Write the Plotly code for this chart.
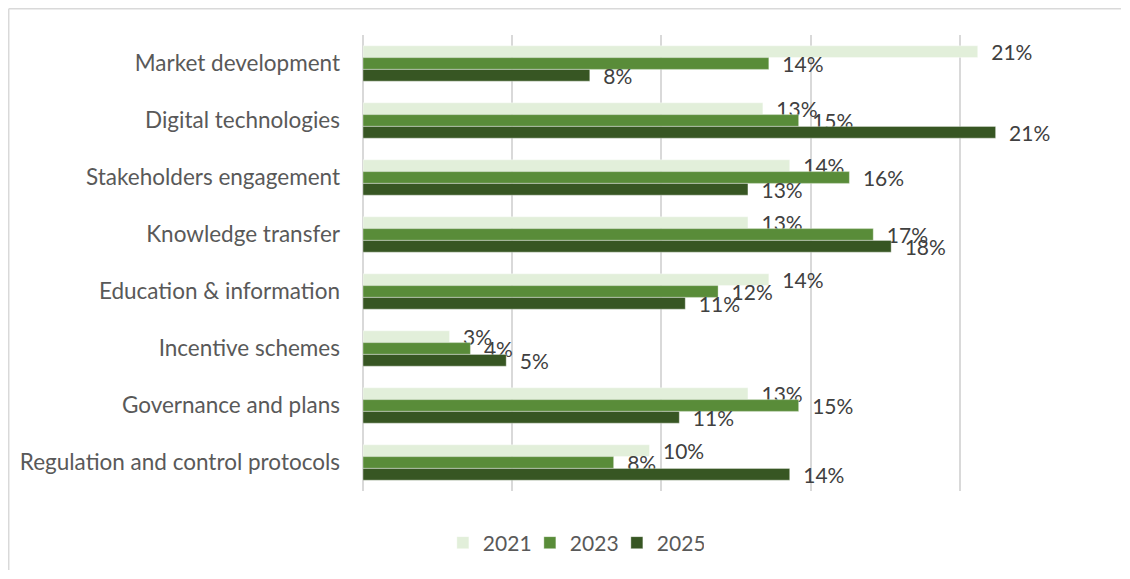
import plotly.graph_objects as go

# categories, top to bottom
categories = [
    "Market development",
    "Digital technologies",
    "Stakeholders engagement",
    "Knowledge transfer",
    "Education & information",
    "Incentive schemes",
    "Governance and plans",
    "Regulation and control protocols",
]

# shares in %
vals_2021 = [20.6, 13.4, 14.3, 12.9, 13.6, 2.9, 12.9, 9.6]
vals_2023 = [13.6, 14.6, 16.3, 17.1, 11.9, 3.6, 14.6, 8.4]
vals_2025 = [7.6, 21.2, 12.9, 17.7, 10.8, 4.8, 10.6, 14.3]

years = ["2021", "2023", "2025"]
series = [vals_2021, vals_2023, vals_2025]
colors = ["#E2EFDA", "#598C39", "#375623"]

FONT = "Lato"

fig = go.Figure()
for name, vals, col in zip(years, series, colors):
    fig.add_trace(go.Bar(
        name=name, y=categories, x=vals, orientation="h",
        marker=dict(color=col, line=dict(color="rgba(255,255,255,0.6)", width=0.6)),
        text=["\u2002" + f"{v:.0f}%" for v in vals],
        textposition="outside", constraintext="none", cliponaxis=False,
        textfont=dict(family=FONT, size=21, color="#404040"),
    ))

# chart frame: only its top and left edges fall inside the picture,
# kept inside the figure so the page does not overflow
frame = dict(line=dict(color="#D9D9D9", width=1.5), layer="below", xref="paper", yref="paper")

# the page body has an 8px margin: keep the figure inside the window
# (no scrollbars) and shift the margins by that amount
fig.update_layout(
    width=1114, height=563,
    barmode="group", bargap=0.38, bargroupgap=0,
    paper_bgcolor="white", plot_bgcolor="white",
    margin=dict(l=355, r=13, t=27, b=80, autoexpand=False),
    font=dict(family=FONT, size=21, color="#595959"),
    showlegend=True,
    legend=dict(orientation="h", x=0.282, xanchor="center", y=-0.114, yanchor="middle",
                font=dict(size=21, color="#595959"), traceorder="normal",
                entrywidth=42),
    shapes=[
        dict(type="line", x0=-0.4749, x1=1.016, y0=1.0576, y1=1.0576, **frame),
        dict(type="line", x0=-0.4749, x1=-0.4749, y0=-0.173, y1=1.0576, **frame),
    ],
)
fig.update_xaxes(range=[0, 25], dtick=5, showticklabels=False, automargin=False,
                 showgrid=True, gridcolor="#D9D9D9", gridwidth=1.5,
                 zeroline=True, zerolinecolor="#D9D9D9", zerolinewidth=1.5)
fig.update_yaxes(autorange="reversed", showgrid=False, ticks="", ticklabelstandoff=22,
                 automargin=False,
                 tickfont=dict(family=FONT, size=22.5, color="#595959"))

fig.write_html("out.html")
